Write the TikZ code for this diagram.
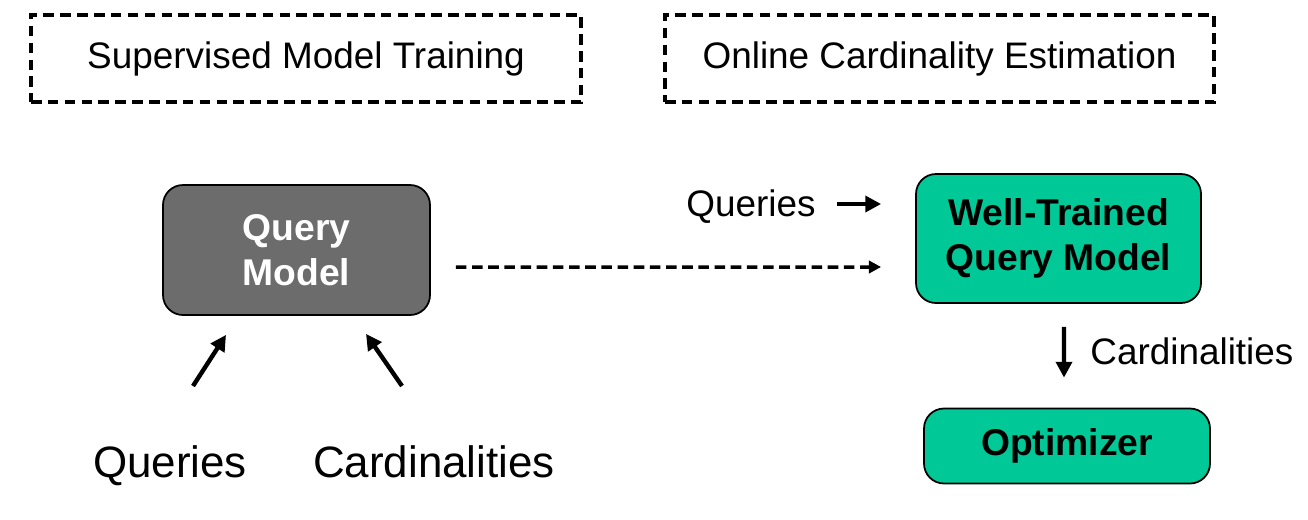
\documentclass[tikz,border=0pt]{standalone}
\usepackage{fontspec}
\setmainfont{Liberation Sans}
\usepackage{xcolor}
\usetikzlibrary{shapes,arrows,arrows.meta,positioning,calc}
\definecolor{modelgray}{RGB}{108,108,108}
\definecolor{modelteal}{RGB}{0,200,150}

\begin{document}
\begin{tikzpicture}[
	phase/.style={draw, line width=1.9pt, dash pattern=on 6pt off 3.6pt, minimum height=1.74cm, font=\fontsize{21}{25}\selectfont},
	model/.style={draw, line width=1pt, rounded corners=0.4cm, align=center, font=\bfseries\fontsize{21.2}{25.5}\selectfont},
	arr/.style={line width=2.5pt, -{Triangle[length=9pt,width=9pt]}},
	]
				\useasboundingbox (0,0) rectangle (26.16,-10.38);
				
				% Two phases
				\node[phase, minimum width=11cm] (train) at (6.12,-1.17) {Supervised Model Training};
				\node[phase, minimum width=10.98cm] (online) at (18.79,-1.17) {Online Cardinality Estimation};
				
				% Models
				\node[model, fill=modelgray, text=white, minimum width=5.34cm, minimum height=2.6cm] (qm) at (5.93,-5.0) {Query\\Model};
				\node[model, fill=modelteal, minimum width=5.7cm, minimum height=2.58cm] (wtm) at (21.17,-4.77) {Well-Trained\\Query Model};
				\node[model, fill=modelteal, minimum width=5.72cm, minimum height=1.5cm] (opt) at (21.34,-8.92) {Optimizer};
				
				% Training inputs
				\node[anchor=base, font=\fontsize{25}{30}\selectfont] (q1) at (3.40,-9.54) {Queries};
				\node[anchor=base, font=\fontsize{25}{30}\selectfont] (c1) at (8.68,-9.54) {Cardinalities};
				\draw[arr] ([shift={(0.46,1.82)}]q1.base) -- ([shift={(-1.41,-0.38)}]qm.south);
				\draw[arr] ([shift={(-0.64,1.82)}]c1.base) -- ([shift={(1.39,-0.36)}]qm.south);
				
				% Trained model goes online
				\draw[line width=2pt, dash pattern=on 6pt off 3.2pt, -{Triangle[length=7pt,width=7pt]}] ([shift={(0.5,-0.34)}]qm.east) -- ([shift={(-0.68,-0.57)}]wtm.west);
				
				% Online estimation
				\node[anchor=base, font=\fontsize{21}{25}\selectfont] (q2) at (15.02,-4.32) {Queries};
				\draw[arr] ([shift={(-1.56,0.69)}]wtm.west) -- ([shift={(-0.68,0.69)}]wtm.west);
				\draw[arr] ([shift={(0.11,-0.46)}]wtm.south) -- ([shift={(-0.06,0.6)}]opt.north);
				\node[anchor=base west, inner sep=0pt, font=\fontsize{21}{25}\selectfont] (c2) at (21.8,-7.28) {Cardinalities};
\end{tikzpicture}
\end{document}
